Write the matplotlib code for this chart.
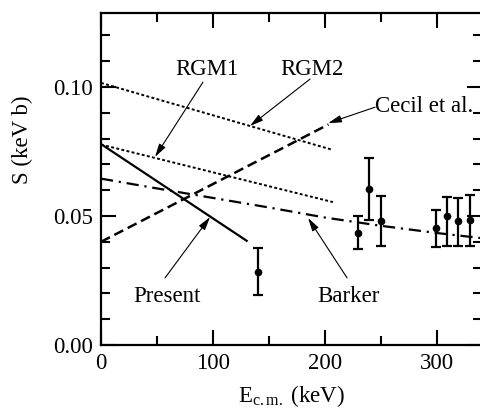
import matplotlib
matplotlib.use("Agg")
import matplotlib.pyplot as plt
from matplotlib.ticker import MultipleLocator, FixedFormatter, FixedLocator

plt.rcParams['font.family'] = ['Liberation Serif', 'DejaVu Serif']
plt.rcParams['mathtext.fontset'] = 'custom'
plt.rcParams['mathtext.rm'] = 'Liberation Serif'
plt.rcParams['mathtext.it'] = 'Liberation Serif:italic'

# ---- data ----
rgm2_x = [0, 207]
rgm2_y = [0.1016, 0.0756]
rgm1_x = [0, 207]
rgm1_y = [0.0777, 0.0554]
present_x = [0, 130]
present_y = [0.0779, 0.0404]
cecil_x = [0, 203]
cecil_y = [0.0400, 0.0855]
barker_x = [0, 50, 100, 150, 200, 250, 300, 340]
barker_y = [0.0645, 0.0607, 0.0570, 0.0533, 0.0494, 0.0462, 0.0434, 0.0414]

exp_x = [140, 229.5, 239, 249.5, 299, 309, 319, 329]
exp_y = [0.0284, 0.0434, 0.0603, 0.0482, 0.0455, 0.0501, 0.0481, 0.0484]
exp_lo = [0.0194, 0.0372, 0.0484, 0.0385, 0.0381, 0.0385, 0.0382, 0.0382]
exp_hi = [0.0376, 0.0501, 0.0724, 0.0577, 0.0522, 0.0572, 0.0570, 0.0580]

x_ticks = [0, 100, 200, 300]
x_ticklabels = ['0', '100', '200', '300']
y_ticks = [0.00, 0.05, 0.10]
y_ticklabels = ['0.00', '0.05', '0.10']

fig = plt.figure(figsize=(4.8, 4.12), dpi=100)
ax = fig.add_axes([101/480, 67/412, 381/480, 332/412])

ax.plot(rgm2_x, rgm2_y, color='black', lw=1.4, linestyle=(0, (1.5, 1.2)))
ax.plot(rgm1_x, rgm1_y, color='black', lw=1.4, linestyle=(0, (1.5, 1.2)))
ax.plot(present_x, present_y, color='black', lw=1.6, linestyle='-')
ax.plot(cecil_x, cecil_y, color='black', lw=1.8, linestyle=(0, (4, 2)))
ax.plot(barker_x, barker_y, color='black', lw=1.6, linestyle=(0, (5.5, 2.6, 1, 2.6)))

lower = [y - l for y, l in zip(exp_y, exp_lo)]
upper = [h - y for y, h in zip(exp_y, exp_hi)]
ax.errorbar(exp_x, exp_y, yerr=[lower, upper], fmt='o', color='black',
            ms=4.5, elinewidth=1.6, capsize=3.5, capthick=1.6)

ax.set_xlim(0, 340)
ax.set_ylim(0, 0.1287)

ax.xaxis.set_major_locator(FixedLocator(x_ticks))
ax.xaxis.set_major_formatter(FixedFormatter(x_ticklabels))
ax.xaxis.set_minor_locator(MultipleLocator(50))
ax.yaxis.set_major_locator(FixedLocator(y_ticks))
ax.yaxis.set_major_formatter(FixedFormatter(y_ticklabels))
ax.yaxis.set_minor_locator(MultipleLocator(0.01))

ax.tick_params(which='both', direction='in', top=True, right=True,
               width=1.5, labelsize=16.5, colors='black')
ax.tick_params(which='major', length=11)
ax.tick_params(which='minor', length=6.5)
ax.tick_params(axis='x', which='major', pad=6)
ax.tick_params(axis='y', which='major', pad=6)
for sp in ax.spines.values():
    sp.set_linewidth(1.6)

ax.set_xlabel(r'E$_{\rm c.m.}$ (keV)', fontsize=16.5)
ax.set_ylabel('S (keV b)', fontsize=16.5)
ax.xaxis.set_label_coords(0.5, -0.115)
ax.yaxis.set_label_coords(-0.178, 0.617)

arrow = dict(arrowstyle='-|>,head_length=0.8,head_width=0.22', lw=0.8,
             color='black', shrinkA=0, shrinkB=0)
ax.text(94.6, 0.1047, 'RGM1', fontsize=16.5, ha='center', va='baseline')
ax.annotate('', xy=(48.2, 0.0729), xytext=(91, 0.1019), arrowprops=arrow)
ax.text(188.4, 0.1047, 'RGM2', fontsize=16.5, ha='center', va='baseline')
ax.annotate('', xy=(133, 0.0849), xytext=(186.6, 0.1031), arrowprops=arrow)
ax.text(244.6, 0.0904, 'Cecil et al.', fontsize=16.5, ha='left', va='baseline')
ax.annotate('', xy=(202.7, 0.0860), xytext=(244.6, 0.0922), arrowprops=arrow)
ax.text(58.9, 0.0168, 'Present', fontsize=16.5, ha='center', va='baseline')
ax.annotate('', xy=(97.3, 0.0496), xytext=(57.1, 0.026), arrowprops=arrow)
ax.text(220.5, 0.0168, 'Barker', fontsize=16.5, ha='center', va='baseline')
ax.annotate('', xy=(184.8, 0.0492), xytext=(219.6, 0.026), arrowprops=arrow)

fig.savefig('out.png', dpi=100)
